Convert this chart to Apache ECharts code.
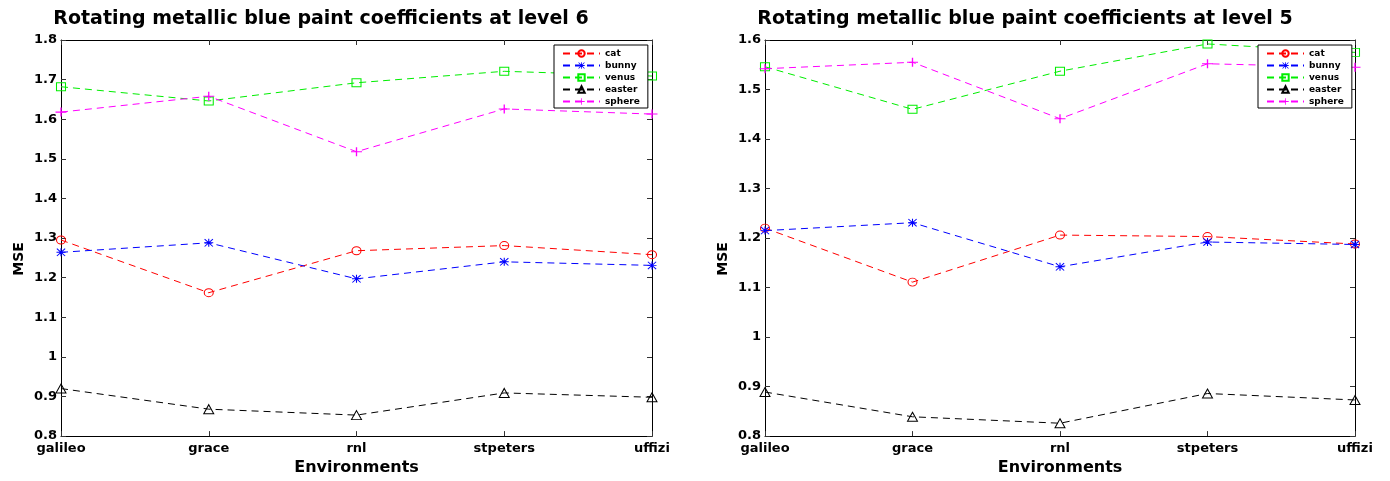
<!DOCTYPE html>
<html>
<head>
<meta charset="utf-8">
<script src="https://cdn.jsdelivr.net/npm/echarts@6/dist/echarts.min.js"></script>
<style>
  html, body { margin: 0; padding: 0; background: #fff; }
  #chart { width: 1390px; height: 481px; }
</style>
</head>
<body>
<div id="chart"></div>
<script>
// categories on the x axis
const environments = ['galileo', 'grace', 'rnl', 'stpeters', 'uffizi'];
const objects = ['cat', 'bunny', 'venus', 'easter', 'sphere'];

// MSE at level 6 (left panel)
const cat6 = [1.295, 1.162, 1.268, 1.281, 1.258];
const bunny6 = [1.264, 1.288, 1.197, 1.240, 1.231];
const venus6 = [1.682, 1.646, 1.692, 1.721, 1.709];
const easter6 = [0.920, 0.868, 0.853, 0.909, 0.898];
const sphere6 = [1.618, 1.658, 1.518, 1.626, 1.613];

// MSE at level 5 (right panel)
const cat5 = [1.220, 1.111, 1.206, 1.203, 1.188];
const bunny5 = [1.215, 1.231, 1.142, 1.192, 1.187];
const venus5 = [1.546, 1.460, 1.537, 1.592, 1.575];
const easter5 = [0.889, 0.839, 0.826, 0.886, 0.873];
const sphere5 = [1.542, 1.555, 1.441, 1.552, 1.545];

// y axis ranges
const yRange6 = [0.8, 1.8];
const yRange5 = [0.8, 1.6];

const FONT = '"DejaVu Sans", "Liberation Sans", Arial, sans-serif';

// matlab-ish markers ('+' and '*')
const plusPath = 'path://M4.4,0h1.2v4.4h4.4v1.2h-4.4v4.4h-1.2v-4.4h-4.4v-1.2h4.4z';
const starSym = plusPath +
  'M0,0.8L0.8,0L10,9.2L9.2,10Z' +
  'M9.2,0L10,0.8L0.8,10L0,9.2Z';

const styles = {
  cat:    { color: '#ff0000', symbol: 'circle',   size: [9, 8],  hollow: true },
  bunny:  { color: '#0000ff', symbol: starSym,    size: [9, 8],  hollow: false },
  venus:  { color: '#00ee00', symbol: 'rect',     size: [9, 8],  hollow: true },
  easter: { color: '#000000', symbol: 'triangle', size: [10, 9], hollow: true },
  sphere: { color: '#ff00ff', symbol: plusPath,   size: [11, 9], hollow: false }
};

function makeSeries(name, data, idx) {
  const s = styles[name];
  return {
    name: name,
    type: 'line',
    xAxisIndex: idx * 2,
    yAxisIndex: idx * 2,
    data: data,
    color: s.color,
    symbol: s.symbol,
    symbolSize: s.size,
    showAllSymbol: true,
    lineStyle: { color: s.color, width: 1, type: [7, 5] },
    itemStyle: {
      color: s.hollow ? 'rgba(255,255,255,0)' : s.color,
      borderColor: s.color,
      borderWidth: s.hollow ? 1 : 0
    },
    emphasis: { disabled: true },
    animation: false
  };
}

const grids = [
  { left: 61, top: 40, width: 591, height: 401 },
  { left: 765, top: 40, width: 590, height: 401 }
];

const axisText = { color: '#000', fontFamily: FONT, fontWeight: 'bold', fontSize: 13 };
const lineBlack = { show: true, lineStyle: { color: '#000', width: 1 } };
const tickIn = { show: true, inside: true, length: 5, lineStyle: { color: '#333' } };

function xAxes(gi) {
  return [
    {
      gridIndex: gi, type: 'category', data: environments, boundaryGap: false,
      position: 'bottom', axisLine: lineBlack, axisTick: tickIn,
      axisLabel: Object.assign({ margin: 6, interval: 0 }, axisText),
      name: 'Environments', nameLocation: 'middle', nameGap: 21,
      nameTextStyle: { color: '#000', fontFamily: FONT, fontWeight: 'bold', fontSize: 16 }
    },
    {
      gridIndex: gi, type: 'category', data: environments, boundaryGap: false,
      position: 'top', axisLine: lineBlack, axisTick: tickIn, axisLabel: { show: false }
    }
  ];
}

function yAxes(gi, range) {
  return [
    {
      gridIndex: gi, type: 'value', min: range[0], max: range[1], interval: 0.1,
      position: 'left', axisLine: lineBlack, axisTick: tickIn, splitLine: { show: false },
      axisLabel: Object.assign({ margin: 4 }, axisText)
    },
    {
      gridIndex: gi, type: 'value', min: range[0], max: range[1], interval: 0.1,
      position: 'right', axisLine: lineBlack, axisTick: tickIn, splitLine: { show: false },
      axisLabel: { show: false }
    }
  ];
}

function legendAt(left) {
  return {
    data: objects,
    orient: 'vertical',
    left: left,
    top: 45,
    padding: [4, 8, 2, 8],
    itemWidth: 37,
    itemHeight: 8,
    itemGap: 3,
    backgroundColor: '#fff',
    borderColor: '#000',
    borderWidth: 1,
    borderRadius: 0,
    selectedMode: false,
    textStyle: { color: '#000', fontFamily: FONT, fontWeight: 'bold', fontSize: 9, lineHeight: 9 }
  };
}

const titleStyle = { color: '#000', fontFamily: FONT, fontWeight: 'bold', fontSize: 19 };

const series = [];
[cat6, bunny6, venus6, easter6, sphere6].forEach(function (d, i) {
  series.push(makeSeries(objects[i], d, 0));
});
[cat5, bunny5, venus5, easter5, sphere5].forEach(function (d, i) {
  series.push(makeSeries(objects[i], d, 1));
});

const chart = echarts.init(document.getElementById('chart'));
chart.setOption({
  backgroundColor: '#fff',
  animation: false,
  title: [
    { text: 'Rotating metallic blue paint coefficients at level 6', left: 321, top: 10, padding: 0, textAlign: 'center', textStyle: titleStyle },
    { text: 'Rotating metallic blue paint coefficients at level 5', left: 1025, top: 10, padding: 0, textAlign: 'center', textStyle: titleStyle }
  ],
  legend: [legendAt(554), legendAt(1258)],
  grid: grids,
  xAxis: xAxes(0).concat(xAxes(1)),
  yAxis: yAxes(0, yRange6).concat(yAxes(1, yRange5)),
  graphic: [
    { type: 'text', x: 19, y: 259, rotation: Math.PI / 2,
      style: { text: 'MSE', align: 'center', verticalAlign: 'middle', fill: '#000',
               font: 'bold 14px ' + FONT } },
    { type: 'text', x: 723, y: 259, rotation: Math.PI / 2,
      style: { text: 'MSE', align: 'center', verticalAlign: 'middle', fill: '#000',
               font: 'bold 14px ' + FONT } }
  ],
  series: series
});
</script>
</body>
</html>
